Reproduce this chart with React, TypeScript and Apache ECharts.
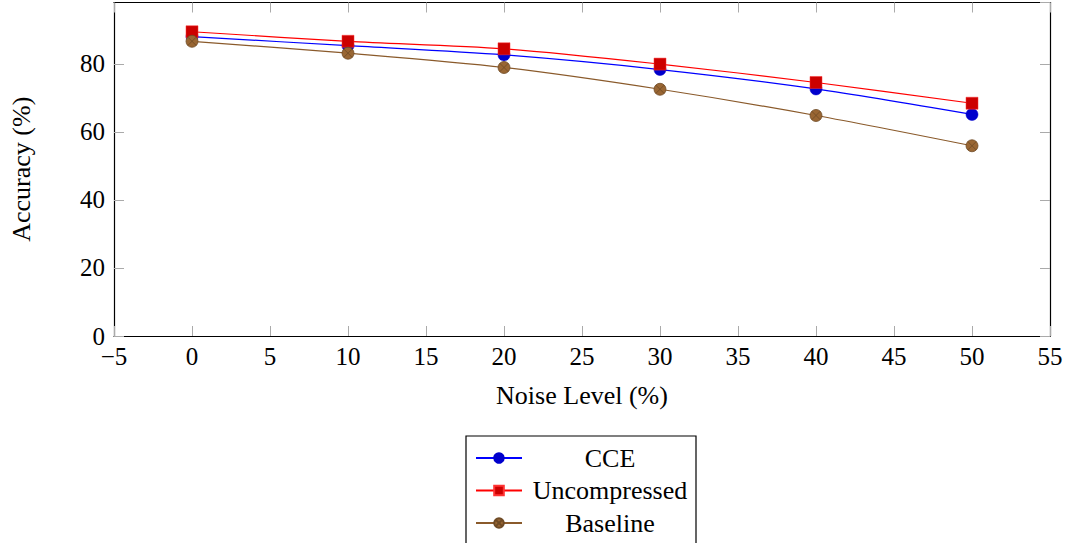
import React, { useEffect, useRef } from "react";
import * as echarts from "echarts";

const noiseLevels = [0, 10, 20, 30, 40, 50];
const cceValues = [88.0, 85.3, 82.6, 78.3, 72.6, 65.1];
const uncompressedValues = [89.4, 86.6, 84.4, 79.9, 74.5, 68.4];
const baselineValues = [86.6, 83.1, 78.9, 72.5, 64.8, 55.9];
const seriesNames = ["CCE", "Uncompressed", "Baseline"];
const xAxisTitle = "Noise Level (%)";
const yAxisTitle = "Accuracy (%)";

const otimes =
  "path://M0,10 A10,10 0 1,1 20,10 A10,10 0 1,1 0,10 Z M2.93,2.93 L17.07,17.07 M17.07,2.93 L2.93,17.07";

const serif = "'Liberation Serif', 'Times New Roman', serif";

export default function App() {
  const ref = useRef<HTMLDivElement>(null);
  useEffect(() => {
    if (!ref.current) return;
    const chart = echarts.init(ref.current, null, { renderer: "svg" });
    const pairs = (vals: number[]) => noiseLevels.map((x, i) => [x, vals[i]]);
    const tickStyle = { show: true, inside: true, length: 10, lineStyle: { color: "#aaaaaa", width: 1 } };
    const axisLineStyle = { show: true, onZero: false, lineStyle: { color: "#000", width: 1.2 } };
    const fmtX = (v: number) => (v < 0 ? "\u2212" + Math.abs(v) : String(v));
    const option: any = {
      animation: false,
      grid: { left: 113, right: 16, top: 2.5, bottom: 207, containLabel: false },
      xAxis: [
        {
          type: "value",
          min: -5,
          max: 55,
          interval: 5,
          position: "bottom",
          axisLine: axisLineStyle,
          axisTick: tickStyle,
          splitLine: { show: false },
          axisLabel: { fontFamily: serif, fontSize: 25, color: "#000", margin: 8, formatter: fmtX },
          name: xAxisTitle,
          nameLocation: "middle",
          nameGap: 46,
          nameTextStyle: { fontFamily: serif, fontSize: 26, color: "#000" },
        },
        {
          type: "value",
          min: -5,
          max: 55,
          interval: 5,
          position: "top",
          axisLine: axisLineStyle,
          axisTick: tickStyle,
          splitLine: { show: false },
          axisLabel: { show: false },
        },
      ],
      yAxis: [
        {
          type: "value",
          min: 0,
          max: 98,
          interval: 20,
          position: "left",
          axisLine: axisLineStyle,
          axisTick: tickStyle,
          splitLine: { show: false },
          axisLabel: { fontFamily: serif, fontSize: 25, color: "#000", margin: 9, showMaxLabel: false },
          name: yAxisTitle,
          nameLocation: "middle",
          nameGap: 80,
          nameRotate: 90,
          nameTextStyle: { fontFamily: serif, fontSize: 26, color: "#000" },
        },
        {
          type: "value",
          min: 0,
          max: 98,
          interval: 20,
          position: "right",
          axisLine: axisLineStyle,
          axisTick: tickStyle,
          splitLine: { show: false },
          axisLabel: { show: false },
        },
      ],
      legend: {
        orient: "vertical",
        left: 466,
        top: 436,
        width: 231,
        height: 140,
        padding: [9, 3, 9, 9],
        itemGap: 6.5,
        itemWidth: 46,
        itemHeight: 12,
        borderColor: "#000",
        borderWidth: 1.2,
        backgroundColor: "#fff",
        data: seriesNames,
        formatter: (name: string) => "{n|" + name + "}",
        textStyle: {
          fontFamily: serif,
          fontSize: 26,
          color: "#000",
          rich: { n: { width: 166, align: "center", fontFamily: serif, fontSize: 26, lineHeight: 26, color: "#000" } },
        },
      },
      series: [
        {
          name: seriesNames[0],
          type: "line",
          smooth: 0.3,
          data: pairs(cceValues),
          symbol: "circle",
          symbolSize: 12,
          lineStyle: { color: "#0000ff", width: 1.2 },
          itemStyle: { color: "#0000cc", borderColor: "#0000cc", borderWidth: 0.5 },
          z: 2,
        },
        {
          name: seriesNames[1],
          type: "line",
          smooth: 0.3,
          data: pairs(uncompressedValues),
          symbol: "rect",
          symbolSize: 12,
          lineStyle: { color: "#ff0000", width: 1.2 },
          itemStyle: { color: "#cc0000", borderColor: "#ff3333", borderWidth: 0.5 },
          z: 3,
        },
        {
          name: seriesNames[2],
          type: "line",
          smooth: 0.3,
          data: pairs(baselineValues),
          symbol: otimes,
          symbolSize: 12,
          lineStyle: { color: "#8a5a2b", width: 1.2 },
          itemStyle: { color: "#996633", borderColor: "#6e4a25", borderWidth: 0.8 },
          z: 4,
        },
      ],
    };
    chart.setOption(option);
    return () => chart.dispose();
  }, []);
  return (
    <div
      ref={ref}
      style={{ position: "fixed", left: 0, top: 0, width: 1066, height: 543, background: "#fff" }}
    />
  );
}
